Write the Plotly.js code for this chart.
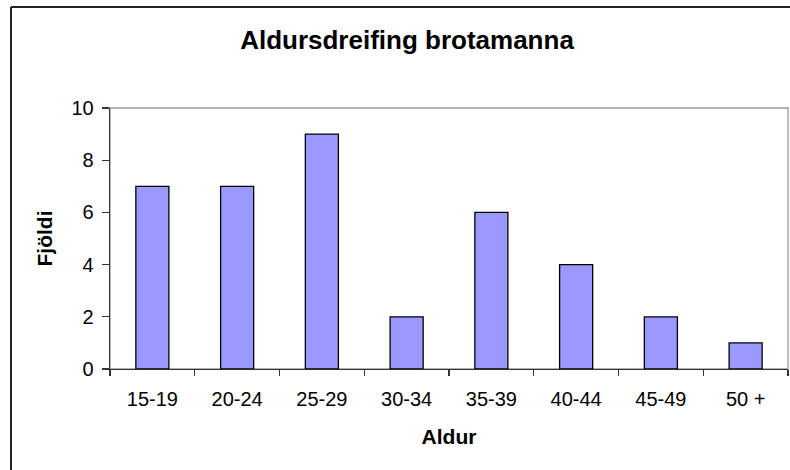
<!DOCTYPE html>
<html>
<head>
<meta charset="utf-8">
<script src="https://cdn.plot.ly/plotly-3.0.1.min.js"></script>
<style>
  html, body { margin: 0; padding: 0; background: #fff; }
  #chart { width: 790px; height: 470px; }
</style>
</head>
<body>
<div id="chart"></div>
<script>
const categories = ["15-19", "20-24", "25-29", "30-34", "35-39", "40-44", "45-49", "50 +"];
const counts = [7, 7, 9, 2, 6, 4, 2, 1];
const yTicks = [0, 2, 4, 6, 8, 10];

const FONT = "Liberation Sans, Arial, sans-serif";

const trace = {
  type: "bar",
  x: categories,
  y: counts,
  marker: { color: "#9999FF", line: { color: "#000000", width: 1.3 } },
  hoverinfo: "skip"
};

const layout = {
  width: 790,
  height: 470,
  margin: { l: 110, r: 2, t: 108, b: 101, pad: 0 },
  paper_bgcolor: "#ffffff",
  plot_bgcolor: "#ffffff",
  showlegend: false,
  bargap: 0.61,
  font: { family: FONT, color: "#000000", size: 20 },
  title: {
    text: "<b>Aldursdreifing brotamanna</b>",
    font: { family: FONT, size: 26, color: "#000000" },
    xref: "container", x: 407 / 790, xanchor: "center",
    yref: "container", y: 1 - 40 / 470, yanchor: "middle"
  },
  xaxis: {
    type: "category",
    showline: true, linecolor: "#333333", linewidth: 1.3,
    ticks: "outside", tickson: "boundaries", ticklen: 6, tickcolor: "#333333", tickwidth: 1.3,
    ticklabelstandoff: 12,
    showgrid: false, zeroline: false,
    tickfont: { family: FONT, size: 20, color: "#000000" },
    title: { text: "<b>Aldur</b>", font: { family: FONT, size: 21, color: "#000000" }, standoff: 20 }
  },
  yaxis: {
    range: [0, 10],
    tickvals: yTicks,
    ticktext: yTicks.map(String),
    showline: true, linecolor: "#333333", linewidth: 1.3,
    ticks: "outside", ticklen: 7, tickcolor: "#333333", tickwidth: 1.3,
    ticklabelstandoff: 4,
    showgrid: false, zeroline: false,
    tickfont: { family: FONT, size: 20, color: "#000000" },
    title: { text: "<b>Fjöldi</b>", font: { family: FONT, size: 21, color: "#000000" }, standoff: 13 }
  },
  shapes: [
    { type: "rect", xref: "paper", yref: "paper", x0: 0, x1: 1, y0: 0, y1: 1,
      line: { color: "#999999", width: 1.3 }, layer: "below" },
    { type: "line", xref: "paper", yref: "paper",
      x0: (11 - 110) / 678, x1: (800 - 110) / 678,
      y0: (369 - 7) / 261, y1: (369 - 7) / 261,
      line: { color: "#222222", width: 2 } },
    { type: "line", xref: "paper", yref: "paper",
      x0: (11 - 110) / 678, x1: (11 - 110) / 678,
      y0: (369 - 7) / 261, y1: (369 - 480) / 261,
      line: { color: "#222222", width: 2 } }
  ]
};

Plotly.newPlot("chart", [trace], layout, { staticPlot: true, displayModeBar: false });
</script>
</body>
</html>
